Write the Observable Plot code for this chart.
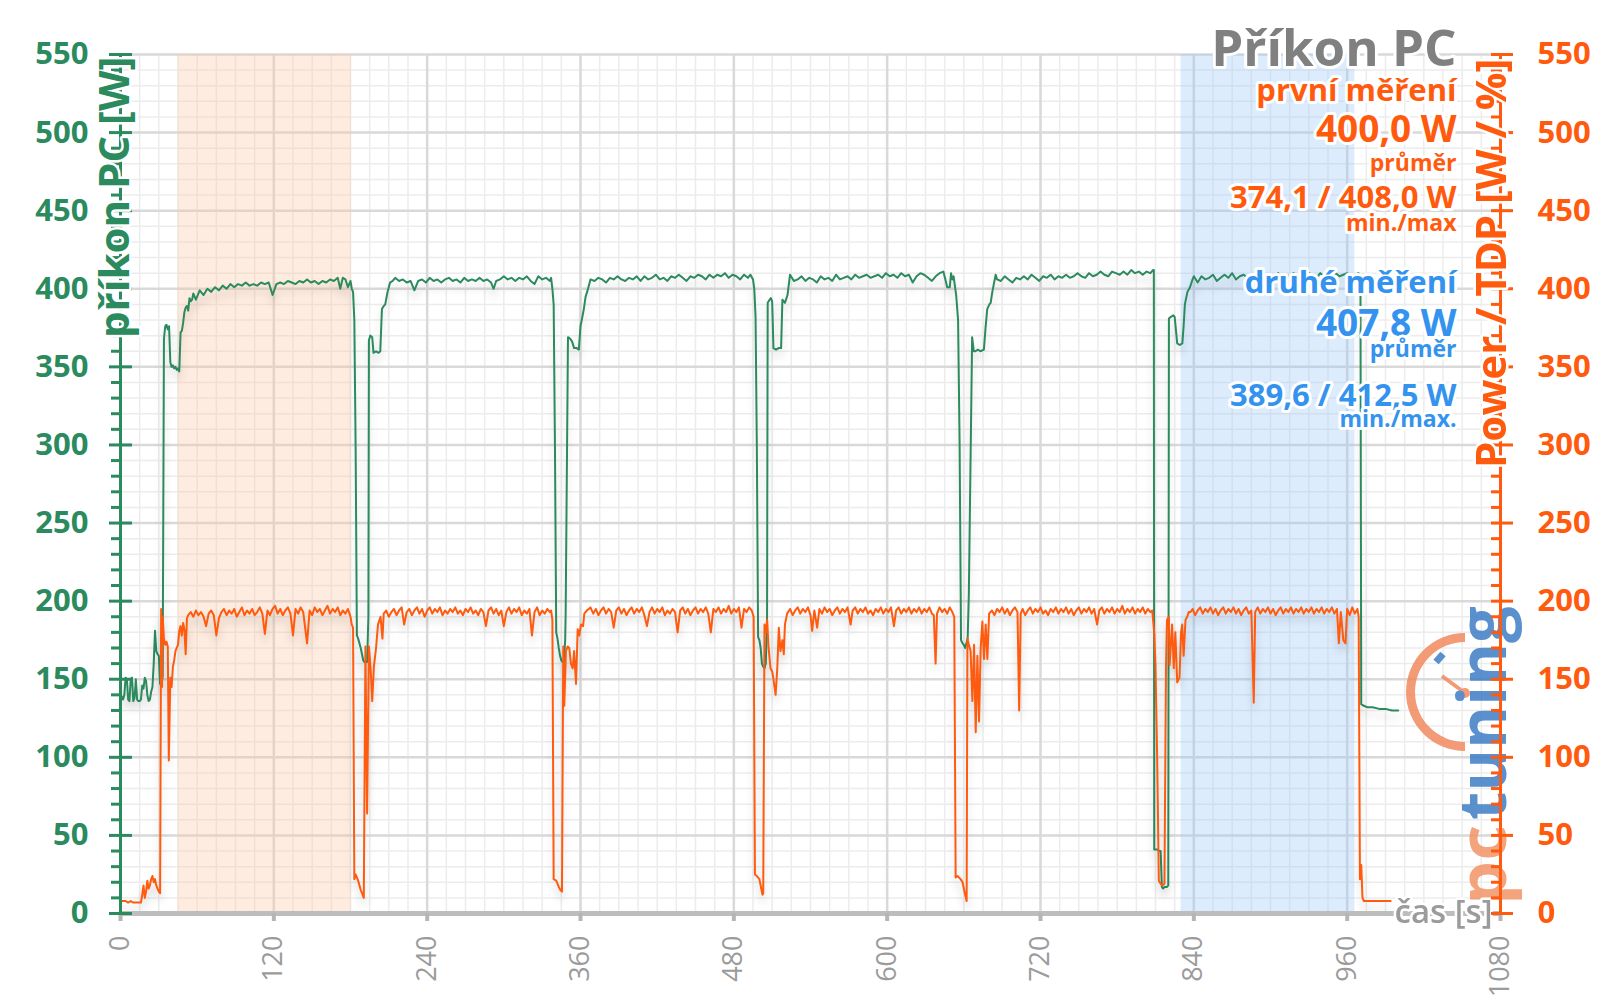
<!DOCTYPE html>
<html><head><meta charset="utf-8">
<script src="https://cdn.jsdelivr.net/npm/d3@7"></script>
<script src="https://cdn.jsdelivr.net/npm/@observablehq/plot@0.6"></script>
<style>
html,body{margin:0;padding:0;background:#fff;}
#chart svg{display:block;font-family:"Open Sans",sans-serif;}
</style></head><body><div id="chart"></div>
<script>
// ---- data: [time s, watts] ----
const pcPower = [
[0,137],[1,139],[2,137],[3,140],[4,151],[5,150],[6,137],[7,136],[8,150],[9,151],[10,136],[11,138],[12,150],[13,137],[14,136],[15,136],[16,137],[17,146],[18,144],[19,151],[20,149],[21,140],[22,136],[23,137],[24,142],[25,145],[26,160],[27,181],[28,168],[29,166],[30,165],[31,147],[32,146],[33,152],
[34,368],[35,376],[36,377],[37,374],[38,376],[39,353],[40,350],[41,351],[42,349],[43,350],[44,348],[45,349],[46,347],[47,372],[48,373],[49,378],[50,385],[51,388],[52,389],[53,386],[54,394],[55,392],[56,393],[57,397],[58,395],[59,393],
[62,399],[65,396],[68,400],[71,398],[74,401],[77,399],[80,402],[83,400],[86,403],[89,401],[92,403],[95,402],[98,404],[101,402],[104,403],[107,402],[110,404],[113,403],[116,404],[119,396],[122,403],[125,404],[128,403],[131,405],[134,404],[137,403],[140,405],[143,404],[146,406],[149,404],[152,405],[155,403],[158,405],[161,404],[164,406],[167,405],[170,407],[172,400],[174,407],[176,406],[178,401],[180,405],[181,400],[182,398],[183,380],[184,300],[185,178],[186,176],[188,170],[190,162],[191,161],[193,161],[194,190],
[194.4,367],[195.5,370],[197,369],[198,359],[200,360],[202,359],[203.3,360],[204.6,387],[206,389],[207.2,390],[209,398],[211,404],[213,405],[215,407],[218,405],[221,406],[224,404],[227,405],[230,399],[233,405],[236,406],[239,404],[242,407],[245,405],[248,406],[251,404],[254,406],[257,407],[260,405],[263,406],[266,404],[269,407],[272,405],[275,406],[278,405],[281,407],[284,405],[287,406],[290,404],[292,400],[294,405],[297,406],[300,408],[303,406],[306,407],[309,405],[312,407],[315,406],[318,408],[321,405],[324,403],[327,408],[330,406],[333,407],[336,405],[337,407],[338,400],[339,390],[340,300],[341,180],[342,176],[343,170],[344,165],[345,162],[346,161],[347,161],[348,175],[348.4,193],
[350.2,369],[352,368],[353.5,366],[355,362],[357,362],[358.7,361],[360,376],[361,380],[362.6,387],[364,395],[365.2,398],[367.8,406],[371,405],[374,407],[377,406],[380,404],[383,407],[386,406],[389,408],[392,406],[395,405],[398,407],[401,406],[404,408],[407,405],[410,408],[413,406],[416,407],[419,409],[422,406],[425,407],[428,405],[431,408],[434,407],[437,409],[440,407],[443,405],[446,408],[449,407],[452,409],[455,408],[458,406],[461,409],[464,407],[467,409],[470,408],[473,410],[476,407],[479,409],[482,408],[485,406],[488,409],[491,407],[493,409],[495,406],[496,400],[497,382],[498,300],[499,177],[500,175],[501,170],[502,160],[503,158],[504,157],[505,160],[506,190],
[506.5,391],[508,393],[509,394],[510,392],[511,362],[513,361],[515,362],[517,362],[518,393],[520,391],[522,396],[524,409],[527,405],[530,406],[533,408],[536,405],[539,407],[542,406],[545,404],[548,408],[551,406],[554,407],[557,405],[560,409],[563,406],[566,407],[569,408],[572,406],[575,409],[578,407],[581,408],[584,409],[587,407],[590,408],[593,409],[596,407],[599,410],[602,408],[605,409],[608,407],[611,410],[614,408],[617,409],[620,404],[623,408],[626,410],[629,409],[632,407],[635,405],[638,408],[641,410],[644,411],[647,401],[649,401],[650,410],[651,406],[652,408],[654,396],[655.5,380],[656.7,300],[657.8,175],[659,173],[660,172],[661,170],[662,173],[663,176],[663.9,204],
[666.5,369],[667.8,360],[669,360],[671,361],[673,360],[675.7,361],[677,375],[678.3,387],[680,390],[681,391],[682.3,398],[684.9,409],[686,406],[689,405],[692,408],[695,406],[698,404],[701,407],[704,406],[707,408],[710,406],[713,409],[716,407],[719,405],[722,408],[725,407],[728,409],[731,406],[734,408],[737,407],[740,409],[743,407],[746,408],[749,410],[752,408],[755,407],[758,410],[761,408],[764,409],[767,411],[770,409],[773,408],[776,411],[779,410],[782,409],[785,411],[788,409],[791,412],[794,410],[797,411],[800,409],[803,411],[806,410],[808,412],
[808.7,412],[809,41],[811,41],[813,40],[814,40],[815,17],[816,16],[817,17],[818,17],[819,17],[820,18],
[820.5,381],[822,382],[824,383],[825,382],[827,365],[829,364],[831,365],[832,376],[833,390],[835,398],[837,401],[839,406],[840,408],[843,404],[846,408],[849,406],[852,407],[855,409],[858,405],[861,407],[864,409],[867,407],[870,410],[873,406],[876,408],[879,409],[882,407],[885,409],[888,406],[891,408],[894,410],[897,407],[900,409],[903,408],[906,410],[909,407],[912,409],[915,408],[918,410],[921,407],[924,409],[927,408],[930,410],[933,409],[936,407],[939,410],[942,408],[945,409],[948,407],[951,410],[954,408],[957,409],[960,410],[963,408],[966,409],[969,410],[970.4,408],[971,134],[973,133],[976,132],[980,132],[985,131],[990,131],[995,130],[1000,130]
];
const powerTdp = [
[0,8],[2,8],[4,8],[6,7],[8,8],[10,7],[12,7],[14,7],[16,7],[17,12],[18,18],[19,10],[20,14],[21,21],[22,16],[23,18],[24,22],[25,24],[26,20],[27,22],[28,18],[29,16],[30,14],[31,13],
[31.8,195],[32.5,145],[33,190],[34,176],[35,172],[36,174],[37,171],[37.8,98],[39,151],[40,145],[41,158],[42,162],[43,168],[44,170],[45,172],[46,181],[47,184],[48,178],[49,186],[50,182],[51,166],[52,189],[53,191],
[55,193],[57,190],[59,194],[61,191],[63,193],[65,190],[67,184],[69,192],[71,194],[73,191],[75,178],[77,189],[79,193],[81,195],[83,191],[85,194],[87,192],[89,195],[91,190],[93,193],[95,196],[97,191],[99,194],[101,192],[103,195],[105,191],[107,193],[109,196],[111,192],[113,179],[115,194],[117,191],[119,195],[121,197],[123,192],[125,195],[127,191],[129,194],[131,196],[133,192],[135,178],[137,195],[139,192],[141,196],[143,193],[146,173],[148,194],[150,191],[152,196],[154,193],[156,195],[158,191],[160,194],[162,197],[164,192],[166,195],[168,193],[170,196],[172,191],[174,194],[176,192],[178,195],[180,190],[181,185],[182,183],
[183,22],[184,25],[186,21],[187,18],[188,15],[189,13],[190.4,10],[191.7,171],[193,64],[194.4,171],[195.7,157],[197,136],[198.3,158],[200,170],[201.5,185],[203.5,190],[205,176],[206,192],
[208,194],[210,190],[212,193],[214,195],[216,191],[218,194],[220,196],[222,185],[224,193],[226,195],[228,191],[230,194],[232,196],[234,192],[236,195],[238,190],[240,194],[242,196],[244,192],[246,195],[248,193],[250,196],[252,191],[254,194],[256,192],[258,195],[260,193],[262,196],[264,192],[266,194],[268,191],[270,195],[272,193],[274,196],[276,192],[278,194],[280,191],[282,195],[284,193],[286,184],[288,194],[290,196],[292,192],[294,195],[296,191],[298,194],[300,184],[302,193],[304,196],[306,192],[308,195],[310,193],[312,196],[314,191],[316,194],[318,192],[320,195],[322,178],[324,193],[326,196],[328,191],[330,194],[332,192],[334,195],[336,193],[337,194],[338,188],
[339,22],[341,21],[343,17],[344.3,15],[345.5,14],[346.5,171],[347.3,133],[348.6,168],[350,171],[351.2,170],[352.5,160],[353.9,157],[355,168],[356.5,147],[357.8,182],[359,178],[360.4,185],[362,184],[363,192],[365,194],[367.8,196],
[370,192],[372,195],[374,191],[376,194],[378,196],[380,192],[382,195],[384,193],[386,183],[388,194],[390,196],[392,192],[394,195],[396,191],[398,194],[400,196],[402,192],[404,195],[406,193],[408,196],[410,191],[412,184],[414,193],[416,196],[418,192],[420,195],[422,193],[424,196],[426,191],[428,194],[430,192],[432,195],[434,193],[436,180],[438,194],[440,196],[442,192],[444,195],[446,191],[448,194],[450,196],[452,192],[454,195],[456,193],[458,196],[460,192],[462,180],[464,195],[466,193],[468,196],[470,192],[472,195],[474,193],[476,197],[478,192],[480,195],[482,193],[484,196],[486,183],[488,195],[490,193],[492,196],[494,194],[495.5,190],
[496.5,25],[498,24],[500,22],[502.4,12],[503,13],[504,185],[505,180],[506.1,188],[507,172],[508.7,157],[510,155],[511,150],[512.7,140],[514,157],[515.2,183],[516.5,168],[518,175],[519.1,166],[520,185],[521.7,192],
[524,195],[526,191],[528,194],[530,196],[532,192],[534,195],[536,193],[538,196],[540,191],[541.3,181],[543,194],[545.2,183],[547,195],[549,192],[551,196],[553,193],[555,195],[557,191],[559,194],[561,196],[563,192],[565,195],[567,193],[569,196],[571.4,185],[573,194],[575,196],[577,192],[579,195],[581,193],[583,196],[585,192],[587,194],[589,191],[591,195],[593,193],[595,196],[597,192],[599,195],[601,193],[603,196],[605.3,184],[607,194],[609,196],[611,192],[613,195],[615,193],[617,196],[619,192],[621,195],[623,193],[625,196],[627,192],[629,195],[631,193],[633,196],[635,192],[636.5,191],[637.9,160],[639,192],[641,196],[643,193],[645,195],[647,192],[649,196],[651,193],[652.5,190],
[653.6,23],[655,24],[657.5,22],[659,20],[661,12],[662.2,8],[662.8,176],[664,172],[665.3,168],[666.7,136],[668,172],[669.3,116],[670.6,165],[671.9,123],[673.2,170],[674.5,187],[675.8,163],[677.1,185],[678.4,163],[679.8,192],
[682,194],[684,191],[686,195],[688,193],[690,196],[692,192],[694,195],[696,191],[698,194],[700,196],[702,193],[703.3,130],[704.5,192],[706,195],[708,191],[710,194],[712,196],[714,192],[716,195],[718,193],[720,196],[722,192],[724,194],[726,191],[728,195],[730,193],[732,196],[734,192],[736,195],[738,193],[740,196],[742,192],[744,195],[746,191],[748,194],[750,196],[752,192],[754,195],[756,193],[758,196],[760,192],[762,195],[764.3,185],[766,194],[768,196],[770,192],[772,195],[774,193],[776,196],[778,192],[780,195],[782,193],[784,197],[786,192],[788,195],[790,193],[792,196],[794,192],[796,195],[798,193],[800,196],[802,192],[804,195],[806,193],[807.4,194],
[809,180],[810,159],[811.3,100],[812.6,21],[814,19],[815.2,18],[817,19],[818.2,157],[819,188],[820.4,190],[821,159],[822,172],[823,185],[824.3,157],[825.5,180],[827,148],[828.8,151],[830,180],[830.9,185],[832,165],[833.5,188],[834.8,190],[836,193],[837.4,193],
[839,195],[841,191],[843,194],[845,196],[847,192],[849,195],[851,193],[853,196],[855,192],[857,195],[859,191],[861,194],[863,196],[865,192],[867,195],[869,193],[871,196],[873,192],[875,195],[877,191],[879,194],[881,196],[883,192],[885,194],[886.9,135],[888,193],[890,196],[892,192],[894,195],[896,193],[898,196],[900,192],[902,195],[904,191],[906,194],[908,196],[910,192],[912,195],[914,193],[916,196],[918,192],[920,195],[922,193],[924,196],[926,192],[928,195],[930,193],[932,196],[934,192],[936,195],[938,193],[940,196],[942,192],[944,195],[946,193],[948,196],[950,192],[952,195],[953.5,173],[955,193],[957,175],[958.7,173],[960,195],[962,191],[964,196],[966,192],[968,195],[969,190],
[970,22],[971,31],[972,10],[973.1,8],[980,8],[985,8],[990,8],[994,8]
];
const firstWindow = [[45, 180.8]];
const secondWindow = [[830, 966]];
const xTicks = [0,120,240,360,480,600,720,840,960,1080];
const yTicks = [0,50,100,150,200,250,300,350,400,450,500,550];
const title = "Příkon PC";
const firstLines = ["první měření","400,0 W","průměr","374,1 / 408,0 W","min./max"];
const secondLines = ["druhé měření","407,8 W","průměr","389,6 / 412,5 W","min./max."];
const leftLabel = "příkon PC [W]";
const rightLabel = "Power / TDP [W / %]";
const xLabel = "čas [s]";

// ---- styles ----
const GREEN = "#2b8a5e", ORANGE = "#ff5a0d", BLUE = "#3393ee", GRAY = "#808080", TICKGRAY = "#9b9b9b";
const minorX = d3.range(0, 1081, 15).filter(v => v % 120);
const minorY = d3.range(0, 551, 10).filter(v => v % 50);
const lineSizes = [31, 37, 23, 31, 23];
const firstDy = [46, 87, 116, 153, 176];
const secondDy = [238, 281, 302, 351, 372];

function label(txt, o) {
  return Plot.text([txt], Object.assign({text: d => d, stroke: "white", strokeWidth: 6, fontWeight: "bold"}, o));
}

const chart = Plot.plot({
  width: 1600, height: 1008,
  marginLeft: 120, marginRight: 100, marginTop: 54, marginBottom: 95,
  x: {domain: [0, 1080]},
  y: {domain: [0, 550]},
  style: {fontFamily: "'Open Sans', sans-serif", background: "white"},
  marks: [
    Plot.ruleX(minorX, {stroke: "#ececec", strokeWidth: 1.5}),
    Plot.ruleY(minorY, {stroke: "#ececec", strokeWidth: 1.5}),
    Plot.ruleX(xTicks, {stroke: "#d9d9d9", strokeWidth: 2.5}),
    Plot.ruleY(yTicks, {stroke: "#d9d9d9", strokeWidth: 2.5}),
    Plot.rect(firstWindow, {x1: d => d[0], x2: d => d[1], fill: "#fbc9a6", fillOpacity: 0.35}),
    Plot.rect(secondWindow, {x1: d => d[0], x2: d => d[1], fill: "#9cc8f8", fillOpacity: 0.35}),
    Plot.line(pcPower, {x: d => d[0], y: d => d[1], stroke: GREEN, strokeWidth: 2}),
    Plot.line(powerTdp, {x: d => d[0], y: d => d[1], stroke: ORANGE, strokeWidth: 2}),
    // text block
    label(title, {frameAnchor: "top-right", dx: -44, dy: 11, lineAnchor: "bottom", textAnchor: "end", fontSize: 51, fill: GRAY}),
    ...firstLines.map((t, i) => label(t, {frameAnchor: "top-right", dx: -44, dy: firstDy[i], lineAnchor: "bottom", textAnchor: "end", fontSize: lineSizes[i], fill: ORANGE})),
    ...secondLines.map((t, i) => label(t, {frameAnchor: "top-right", dx: -44, dy: secondDy[i], lineAnchor: "bottom", textAnchor: "end", fontSize: lineSizes[i], fill: BLUE})),
    // x axis
    Plot.ruleY([0], {stroke: "#bdbdbd", strokeWidth: 5}),
    Plot.axisX({ticks: xTicks, tickSize: 8, strokeWidth: 4, stroke: "#b5b5b5", tickRotate: -90, fontSize: 27, fill: TICKGRAY, tickPadding: 14, tickFormat: d => String(d), label: null}),
    label(xLabel, {frameAnchor: "bottom-right", dx: -8, dy: 9, lineAnchor: "bottom", textAnchor: "end", fontSize: 33, fontWeight: 600, fill: TICKGRAY, strokeWidth: 5}),
    // left axis
    Plot.ruleX([0], {stroke: GREEN, strokeWidth: 3}),
    Plot.axisY({anchor: "left", ticks: minorY, tickSize: 9, strokeWidth: 3, color: GREEN, tickFormat: () => "", label: null}),
    Plot.axisY({anchor: "left", ticks: yTicks, tickSize: 23, dx: 12, tickPadding: 21, strokeWidth: 3, color: GREEN, fontSize: 31, fontWeight: "bold", label: null}),
    label(leftLabel, {frameAnchor: "top-left", dx: -5, dy: 2, rotate: -90, textAnchor: "end", lineAnchor: "middle", fontSize: 42, fill: GREEN, strokeWidth: 5}),
    // right axis
    Plot.ruleX([1080], {stroke: ORANGE, strokeWidth: 3}),
    Plot.axisY({anchor: "right", ticks: minorY, tickSize: 9, dx: -10, strokeWidth: 3, color: ORANGE, tickFormat: () => "", label: null}),
    Plot.axisY({anchor: "right", ticks: yTicks, tickSize: 22, dx: -10, tickPadding: 25, strokeWidth: 3, color: ORANGE, fontSize: 31, fontWeight: "bold", label: null}),
    label(rightLabel, {frameAnchor: "top-right", dx: -8, dy: 4, rotate: -90, textAnchor: "end", lineAnchor: "middle", fontSize: 42, fill: ORANGE, strokeWidth: 5})
  ]
});
document.getElementById("chart").append(chart);

const svg = d3.select(chart);
svg.selectAll('g[aria-label="line"]').style("filter", "drop-shadow(0px 7px 4px rgba(0,0,0,0.16))");

// watermark logo (pctuning), placed under the axes
const before = svg.select('g[aria-label="x-axis tick"]').node() ? 'g[aria-label="x-axis tick"]' : null;
const logo = (before ? svg.insert("g", before) : svg.append("g")).attr("opacity", 0.85).attr("text-anchor", "start");
const arc = d3.arc()({innerRadius: 50, outerRadius: 59, startAngle: -Math.PI, endAngle: 0});
logo.append("path").attr("d", arc).attr("transform", "translate(1465,692)").attr("fill", "#f08a5e");
logo.append("line").attr("x1", 1465).attr("y1", 693).attr("x2", 1442).attr("y2", 676).attr("stroke", "#f08a5e").attr("stroke-width", 4);
logo.append("circle").attr("cx", 1465).attr("cy", 693).attr("r", 5).attr("fill", "#f08a5e");
logo.append("line").attr("x1", 1436).attr("y1", 662).attr("x2", 1443).attr("y2", 654).attr("stroke", "#3c7dc4").attr("stroke-width", 7);
logo.append("text").text("pc").attr("transform", "translate(1506,905) rotate(-90)").attr("text-anchor", "start")
  .attr("font-size", 66).attr("font-weight", "bold").attr("fill", "#f29466")
  .attr("textLength", 80).attr("lengthAdjust", "spacingAndGlyphs");
logo.append("text").text("tuning").attr("transform", "translate(1506,820) rotate(-90)").attr("text-anchor", "start")
  .attr("font-size", 66).attr("font-weight", "bold").attr("fill", "#3c7dc4")
  .attr("textLength", 214).attr("lengthAdjust", "spacingAndGlyphs");
</script></body></html>
